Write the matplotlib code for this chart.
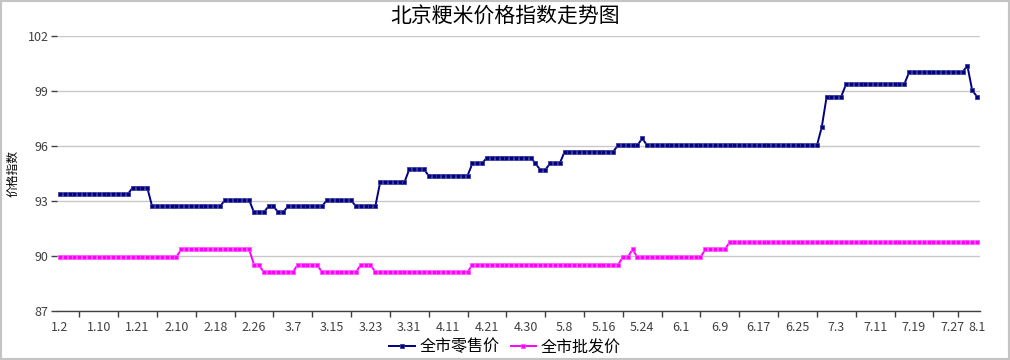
import matplotlib
matplotlib.use("Agg")
import matplotlib.pyplot as plt
from matplotlib.patches import Rectangle
import numpy as np

plt.rcParams['font.family'] = ['Noto Sans CJK SC', 'DejaVu Sans']

# retail price index (全市零售价), one value per trading day
retail = [
    93.38, 93.38, 93.38, 93.38, 93.38, 93.38, 93.38, 93.38, 93.38, 93.38, 93.38, 93.38, 93.38, 93.38, 93.38,
    93.73, 93.73, 93.73, 93.73,
    92.71, 92.71, 92.71, 92.71, 92.71, 92.71, 92.71, 92.71, 92.71, 92.71, 92.71, 92.71, 92.71, 92.71, 92.71,
    93.04, 93.04, 93.04, 93.04, 93.04, 93.04,
    92.38, 92.38, 92.38,
    92.71, 92.71,
    92.38, 92.38,
    92.71, 92.71, 92.71, 92.71, 92.71, 92.71, 92.71, 92.71,
    93.04, 93.04, 93.04, 93.04, 93.04, 93.04,
    92.71, 92.71, 92.71, 92.71, 92.71,
    94.03, 94.03, 94.03, 94.03, 94.03, 94.03,
    94.73, 94.73, 94.73, 94.73,
    94.38, 94.38, 94.38, 94.38, 94.38, 94.38, 94.38, 94.38, 94.38,
    95.05, 95.05, 95.05,
    95.37, 95.37, 95.37, 95.37, 95.37, 95.37, 95.37, 95.37, 95.37, 95.37,
    95.05,
    94.69, 94.69,
    95.05, 95.05, 95.05,
    95.69, 95.69, 95.69, 95.69, 95.69, 95.69, 95.69, 95.69, 95.69, 95.69, 95.69,
    96.03, 96.03, 96.03, 96.03, 96.03,
    96.42,
    96.03, 96.03, 96.03, 96.03, 96.03, 96.03, 96.03, 96.03, 96.03, 96.03, 96.03, 96.03,
    96.03, 96.03, 96.03, 96.03, 96.03, 96.03, 96.03, 96.03, 96.03, 96.03, 96.03, 96.03,
    96.03, 96.03, 96.03, 96.03, 96.03, 96.03, 96.03, 96.03, 96.03, 96.03, 96.03, 96.03,
    97.04,
    98.69, 98.69, 98.69, 98.69,
    99.37, 99.37, 99.37, 99.37, 99.37, 99.37, 99.37, 99.37, 99.37, 99.37, 99.37, 99.37, 99.37,
    100.03, 100.03, 100.03, 100.03, 100.03, 100.03, 100.03, 100.03, 100.03, 100.03, 100.03, 100.03,
    100.38,
    99.03,
    98.69,
]

# wholesale price index (全市批发价)
wholesale = [
    89.95, 89.95, 89.95, 89.95, 89.95, 89.95, 89.95, 89.95, 89.95, 89.95, 89.95, 89.95, 89.95,
    89.95, 89.95, 89.95, 89.95, 89.95, 89.95, 89.95, 89.95, 89.95, 89.95, 89.95, 89.95,
    90.36, 90.36, 90.36, 90.36, 90.36, 90.36, 90.36, 90.36, 90.36, 90.36, 90.36, 90.36, 90.36, 90.36, 90.36,
    89.52, 89.52,
    89.12, 89.12, 89.12, 89.12, 89.12, 89.12, 89.12,
    89.52, 89.52, 89.52, 89.52, 89.52,
    89.12, 89.12, 89.12, 89.12, 89.12, 89.12, 89.12, 89.12,
    89.52, 89.52, 89.52,
    89.12, 89.12, 89.12, 89.12, 89.12, 89.12, 89.12, 89.12, 89.12, 89.12,
    89.12, 89.12, 89.12, 89.12, 89.12, 89.12, 89.12, 89.12, 89.12, 89.12,
    89.52, 89.52, 89.52, 89.52, 89.52, 89.52, 89.52, 89.52, 89.52, 89.52, 89.52,
    89.52, 89.52, 89.52, 89.52, 89.52, 89.52, 89.52, 89.52, 89.52, 89.52,
    89.52, 89.52, 89.52, 89.52, 89.52, 89.52, 89.52, 89.52, 89.52, 89.52,
    89.93, 89.93,
    90.36,
    89.93, 89.93, 89.93, 89.93, 89.93, 89.93, 89.93, 89.93, 89.93, 89.93, 89.93, 89.93, 89.93, 89.93,
    90.36, 90.36, 90.36, 90.36, 90.36,
    90.74, 90.74, 90.74, 90.74, 90.74, 90.74, 90.74, 90.74, 90.74, 90.74, 90.74, 90.74, 90.74,
    90.74, 90.74, 90.74, 90.74, 90.74, 90.74, 90.74, 90.74, 90.74, 90.74, 90.74, 90.74, 90.74,
    90.74, 90.74, 90.74, 90.74, 90.74, 90.74, 90.74, 90.74, 90.74, 90.74, 90.74, 90.74, 90.74,
    90.74, 90.74, 90.74, 90.74, 90.74, 90.74, 90.74, 90.74, 90.74, 90.74, 90.74, 90.74, 90.74,
]

date_labels = ['1.2', '1.10', '1.21', '2.10', '2.18', '2.26', '3.7', '3.15', '3.23', '3.31',
               '4.11', '4.21', '4.30', '5.8', '5.16', '5.24', '6.1', '6.9', '6.17', '6.25',
               '7.3', '7.11', '7.19', '7.27', '8.1']
y_ticks = [87, 90, 93, 96, 99, 102]

x = np.arange(len(retail))
# labels every 8th day, the last one on the final day
label_pos = list(range(0, 8 * (len(date_labels) - 1), 8)) + [len(retail) - 1]
mark_pos = list(range(4, 184, 8)) + [185]

fig = plt.figure(figsize=(10.1, 3.6), dpi=100)
ax = fig.add_axes([57 / 1010, 49 / 360, 922.5 / 1010, 275 / 360])

ax.plot(x, retail, color='#000080', lw=1.4, marker='s', ms=3.0, mew=0.6,
        mec='#3a3aa0', label='全市零售价', zorder=3)
ax.plot(x, wholesale, color='#FF00FF', lw=1.4, marker='s', ms=3.0, mew=0.6,
        mec='#ff55ff', label='全市批发价', zorder=3)

ax.set_xlim(-0.6, 189.5)
ax.set_ylim(87, 102)
ax.set_yticks(y_ticks)
ax.yaxis.grid(True, color='#c8c8c8', lw=1)
ax.set_axisbelow(True)

ax.set_xticks(label_pos)
ax.set_xticklabels(date_labels)
ax.set_xticks(mark_pos, minor=True)
ax.tick_params(axis='x', which='major', length=0, pad=7, labelsize=9, labelcolor='#404040')
ax.tick_params(axis='x', which='minor', length=4, width=1, color='#404040', direction='out')
ax.tick_params(axis='y', length=4, width=1, color='#404040', labelsize=9,
               labelcolor='#404040', pad=2)

for s in ['top', 'right', 'left']:
    ax.spines[s].set_visible(False)
ax.spines['bottom'].set_color('#404040')
ax.spines['bottom'].set_linewidth(1)

ax.set_ylabel('价格指数', fontsize=8.5, labelpad=6)

fig.text(0.5, 1 - 17 / 360, '北京粳米价格指数走势图', ha='center', va='center', fontsize=15)

fig.legend(loc='center', bbox_to_anchor=(0.5, 1 - 347 / 360), ncol=2, frameon=False,
           fontsize=11.5, handlelength=1.6, handletextpad=0.3, columnspacing=0.7,
           borderaxespad=0, borderpad=0)

# grey frame round the whole picture
fig.add_artist(Rectangle((0, 0), 1, 1, transform=fig.transFigure, fill=False,
                         edgecolor='#c4c4c4', lw=3))

fig.savefig('out.png', dpi=100)
